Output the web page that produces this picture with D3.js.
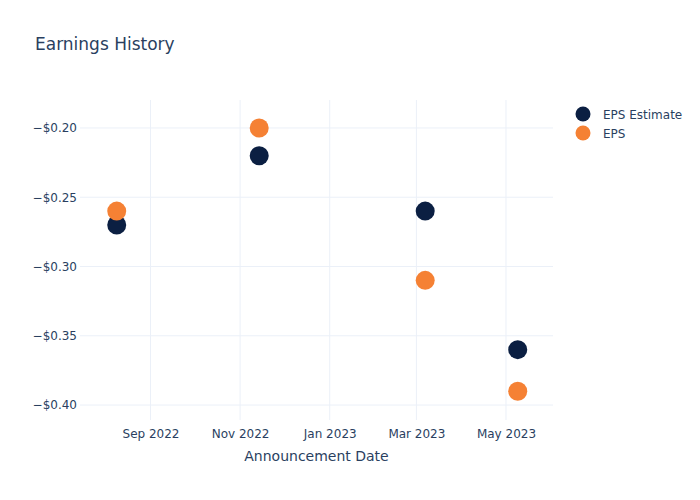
<!DOCTYPE html>
<html><head><meta charset="utf-8">
<script src="https://cdn.jsdelivr.net/npm/d3@7"></script>
<style>body{margin:0;background:#fff}svg{font-family:"DejaVu Sans",Verdana,sans-serif}</style>
</head><body>
<svg id="c" width="700" height="500"></svg>
<script>
const dates = ["2022-08-09","2022-11-14","2023-03-07","2023-05-09"];
const epsEstimate = [-0.27, -0.22, -0.26, -0.36];
const eps = [-0.26, -0.20, -0.31, -0.39];
const yTicks = [-0.20, -0.25, -0.30, -0.35, -0.40];
const xTicks = ["2022-09-01","2022-11-01","2023-01-01","2023-03-01","2023-05-01"];
const seriesNames = ["EPS Estimate", "EPS"];
const colors = ["#0b1f42", "#f58134"];

const parse = d3.utcParse("%Y-%m-%d");
const svg = d3.select("#c");
const FF = "'DejaVu Sans',Verdana,sans-serif";
const L = 80, R = 553, T = 100, B = 420;
const x = d3.scaleUtc().domain([parse("2022-07-15"), parse("2023-06-02")]).range([L, R]);
const y = d3.scaleLinear().domain([-0.4108, -0.1798]).range([B, T]);
const txt = "#2a3f5f", grid = "#ebf0f8";

// grid
svg.append("g").selectAll("line").data(xTicks).join("line")
  .attr("x1", d => x(parse(d))).attr("x2", d => x(parse(d)))
  .attr("y1", T).attr("y2", B).attr("stroke", grid).attr("stroke-width", 1);
svg.append("g").selectAll("line").data(yTicks).join("line")
  .attr("x1", L).attr("x2", R)
  .attr("y1", d => y(d)).attr("y2", d => y(d)).attr("stroke", grid).attr("stroke-width", 1);

// axes
const fmtY = d => "\u2212$" + Math.abs(d).toFixed(2);
const yAxis = d3.axisLeft(y).tickValues(yTicks).tickFormat(fmtY).tickSize(0).tickPadding(3);
const gy = svg.append("g").attr("transform", `translate(${L},0)`).call(yAxis);
gy.select(".domain").remove();
gy.selectAll("text").attr("fill", txt).attr("font-size", 12).attr("font-family", FF);

const fmtX = d3.utcFormat("%b %Y");
const xAxis = d3.axisBottom(x).tickValues(xTicks.map(parse)).tickFormat(fmtX).tickSize(0).tickPadding(9);
const gx = svg.append("g").attr("transform", `translate(0,${B})`).call(xAxis);
gx.select(".domain").remove();
gx.selectAll("text").attr("fill", txt).attr("font-size", 12).attr("font-family", FF);

// axis title
svg.append("text").attr("x", (L + R) / 2).attr("y", 461).attr("text-anchor", "middle")
  .attr("fill", txt).attr("font-size", 14).text("Announcement Date");

// title
svg.append("text").attr("x", 35).attr("y", 50).attr("fill", txt).attr("font-size", 17).text("Earnings History");

// points
const series = [epsEstimate, eps];
series.forEach((vals, i) => {
  svg.append("g").selectAll("circle").data(vals).join("circle")
    .attr("cx", (d, j) => x(parse(dates[j])))
    .attr("cy", d => y(d))
    .attr("r", 9.5)
    .attr("fill", colors[i]);
});

// legend
const lg = svg.append("g");
seriesNames.forEach((n, i) => {
  lg.append("circle").attr("cx", 583).attr("cy", 114 + i * 19).attr("r", 7.5).attr("fill", colors[i]);
  lg.append("text").attr("x", 603).attr("y", 114 + i * 19 + 4.5).attr("fill", txt).attr("font-size", 12).text(n);
});
</script>
</body></html>
